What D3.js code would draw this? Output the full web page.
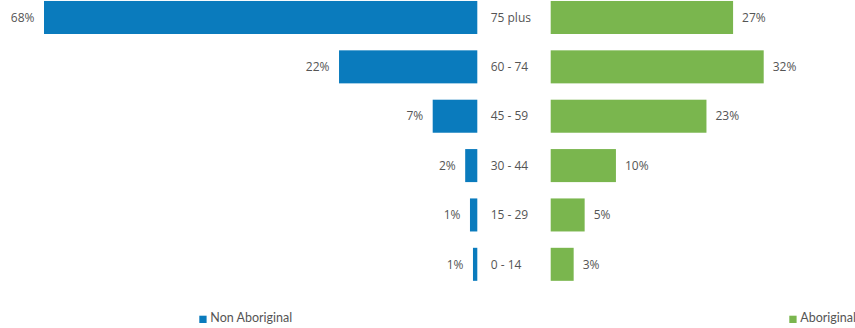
<!DOCTYPE html>
<html>
<head>
<meta charset="utf-8">
<script src="https://cdn.jsdelivr.net/npm/d3@7"></script>
<style>
  body { margin: 0; background: #fff; }
  text { font-family: "Open Sans", sans-serif; fill: #555; }
</style>
</head>
<body>
<div id="chartDiv"></div>
<script>
// age groups, top to bottom
const ageGroups = ["75 plus", "60 - 74", "45 - 59", "30 - 44", "15 - 29", "0 - 14"];
// percent of each group
const nonAboriginal = [68.0, 21.7, 7.0, 1.9, 1.15, 0.68];
const aboriginal = [27.4, 32.0, 23.4, 9.8, 5.1, 3.45];
const seriesNames = ["Non Aboriginal", "Aboriginal"];
const colours = ["#0A7BBD", "#7AB64E"];

var drawChart = function(){
	var canvasW = 855;
	var canvasH = 328;
	const svg = d3.select('#chartDiv')
		.append('svg')
		.attr('width', canvasW)
		.attr('height', canvasH);

	// rows
	const y = d3.scaleBand()
		.domain(ageGroups)
		.range([-7.2, 289])
		.paddingInner(0.331)
		.paddingOuter(0.1655);

	// left side grows to the left, right side to the right
	const xLeft = d3.scaleLinear().domain([0, 68]).range([477.3, 44]);
	const xRight = d3.scaleLinear().domain([0, 32]).range([550.7, 763.7]);

	const fmt = d => Math.round(d) + "%";

	const left = ageGroups.map((g, i) => ({group: g, value: nonAboriginal[i]}));
	const right = ageGroups.map((g, i) => ({group: g, value: aboriginal[i]}));

	// non aboriginal bars
	svg.append('g').selectAll('rect')
		.data(left)
		.enter().append('rect')
		.attr('x', d => xLeft(d.value))
		.attr('y', d => y(d.group))
		.attr('width', d => xLeft(0) - xLeft(d.value))
		.attr('height', y.bandwidth())
		.attr('fill', colours[0]);

	svg.append('g').selectAll('text')
		.data(left)
		.enter().append('text')
		.attr('x', d => xLeft(d.value) - 9.5)
		.attr('y', d => y(d.group) + y.bandwidth() / 2)
		.attr('dy', '0.35em')
		.attr('text-anchor', 'end')
		.style('font-size', '12px')
		.text(d => fmt(d.value));

	// aboriginal bars
	svg.append('g').selectAll('rect')
		.data(right)
		.enter().append('rect')
		.attr('x', xRight(0))
		.attr('y', d => y(d.group))
		.attr('width', d => xRight(d.value) - xRight(0))
		.attr('height', y.bandwidth())
		.attr('fill', colours[1]);

	svg.append('g').selectAll('text')
		.data(right)
		.enter().append('text')
		.attr('x', d => xRight(d.value) + 9)
		.attr('y', d => y(d.group) + y.bandwidth() / 2)
		.attr('dy', '0.35em')
		.style('font-size', '12px')
		.text(d => fmt(d.value));

	// category labels in the middle
	svg.append('g').selectAll('text')
		.data(ageGroups)
		.enter().append('text')
		.attr('x', 490.7)
		.attr('y', d => y(d) + y.bandwidth() / 2)
		.attr('dy', '0.35em')
		.style('font-size', '12px')
		.text(d => d);

	// legend
	const legendX = [199.3, 789.3];
	const legend = svg.append('g').selectAll('g')
		.data(seriesNames)
		.enter().append('g')
		.attr('transform', (d, i) => `translate(${legendX[i]}, 315.7)`);

	legend.append('rect')
		.attr('width', 7.3)
		.attr('height', 7.3)
		.attr('fill', (d, i) => colours[i]);

	legend.append('text')
		.attr('x', 11)
		.attr('y', 6.4)
		.style('font-family', 'Lato, sans-serif')
		.style('font-size', '12.5px')
		.text(d => d);
};

drawChart();
</script>
</body>
</html>
